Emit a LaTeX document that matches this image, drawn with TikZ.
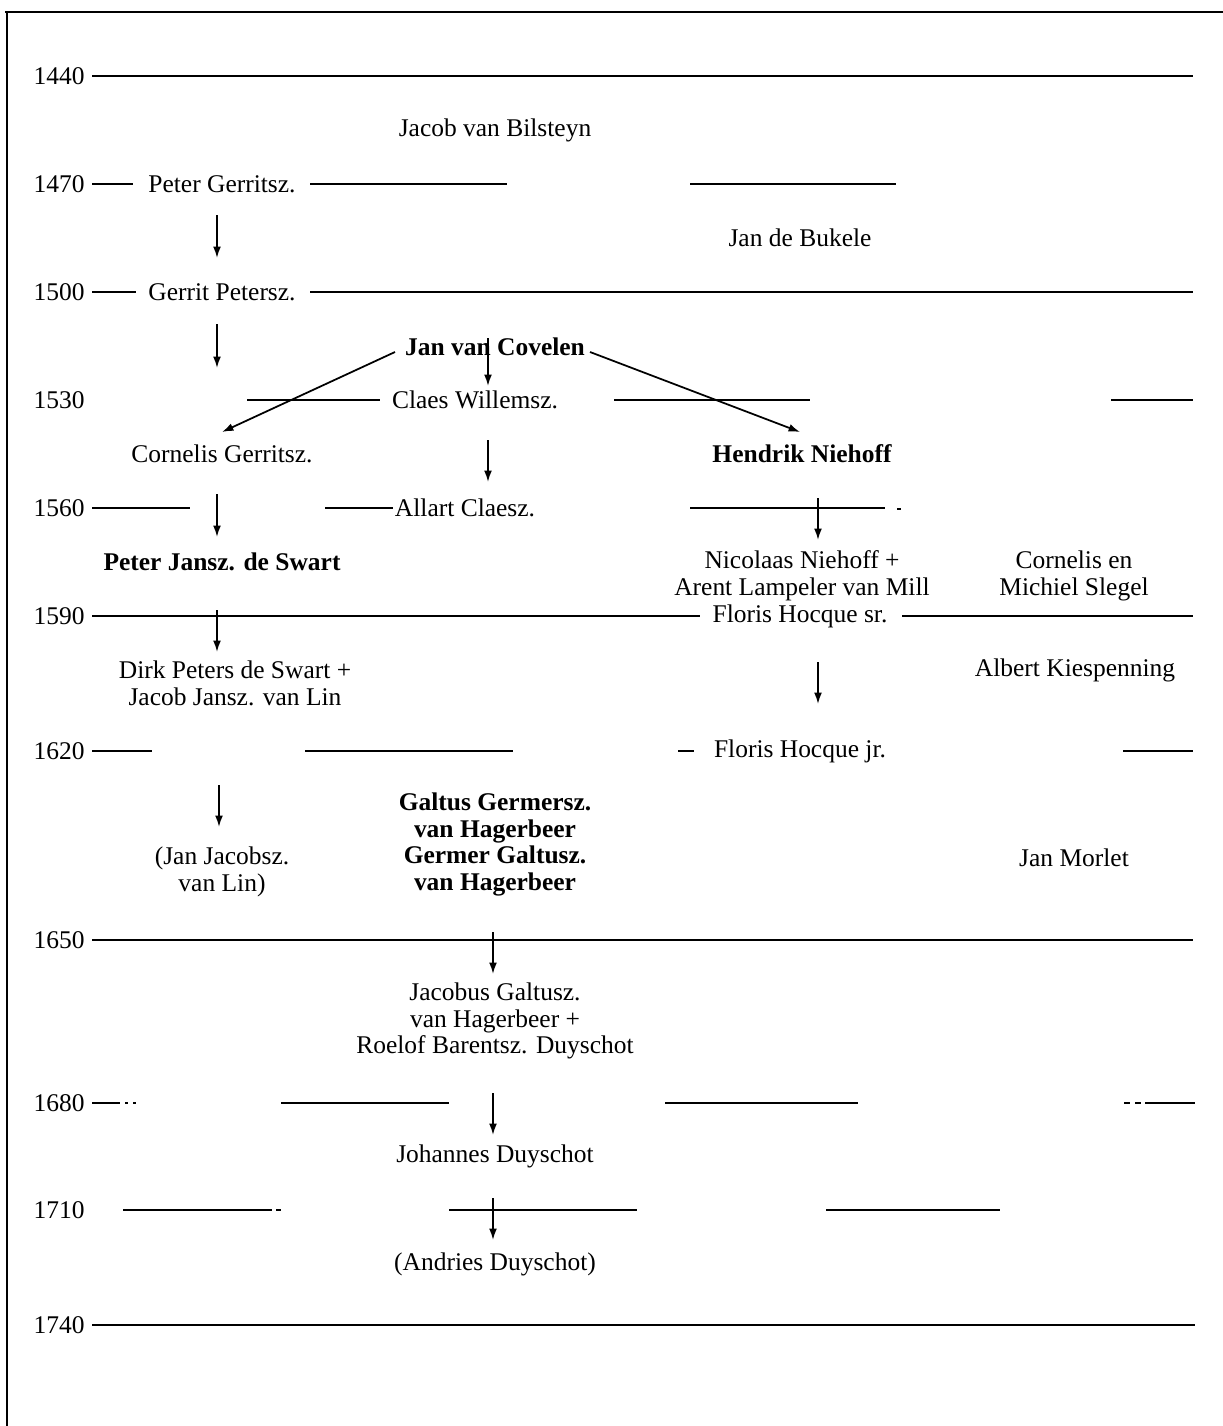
\documentclass[tikz,border=0pt]{standalone}
\usepackage{fontspec}
\setmainfont{Liberation Serif}
\usetikzlibrary{calc,arrows.meta}
\begin{document}
\begin{tikzpicture}[x=0.02cm,y=-0.02cm,
  pname/.style={font=\fontsize{14.5}{15.3}\selectfont, inner sep=0pt, align=center},
  bname/.style={pname, font=\fontsize{14.5}{15.3}\selectfont\bfseries},
  yearlab/.style={pname, anchor=east},
  rule/.style={line width=0.9pt},
  century/.style={line width=1.6pt},
  frame/.style={line width=1.3pt},
  arr/.style={line width=1pt, -{Latex[length=6.5pt,width=4.5pt]}},
]
\useasboundingbox (0,0) rectangle (1223,1426);
% frame
\draw[frame] (5,12) -- (1223,12);
\draw[frame] (7,12) -- (7,1426);

% years
\node[yearlab] (y1440) at (85,76) {1440};
\node[yearlab] (y1470) at (85,184) {1470};
\node[yearlab] (y1500) at (85,292) {1500};
\node[yearlab] (y1530) at (85,400) {1530};
\node[yearlab] (y1560) at (85,508) {1560};
\node[yearlab] (y1590) at (85,616) {1590};
\node[yearlab] (y1620) at (85,751) {1620};
\node[yearlab] (y1650) at (85,940) {1650};
\node[yearlab] (y1680) at (85,1103) {1680};
\node[yearlab] (y1710) at (85,1210) {1710};
\node[yearlab] (y1740) at (85,1325) {1740};

% rules
\draw[century] (92,76) -- (1193,76);
\draw[rule] (92,184) -- (133,184);
\draw[rule] (310,184) -- (507,184);
\draw[rule] (690,184) -- (896,184);
\draw[rule, line width=1.1pt] (92,292) -- (136,292);
\draw[century] (310,292) -- (1193,292);
\draw[rule] (247,400) -- (380,400);
\draw[rule] (614,400) -- (810,400);
\draw[rule] (1111,400) -- (1193,400);
\draw[rule] (92,508) -- (190,508);
\draw[rule] (325,508) -- (393,508);
\draw[rule] (690,508) -- (885,508);
\draw[rule] (897,509) -- (901,509);
\draw[century] (92,616) -- (700,616);
\draw[century] (902,616) -- (1193,616);
\draw[rule] (92,751) -- (152,751);
\draw[rule] (305,751) -- (513,751);
\draw[rule] (678,751) -- (694,751);
\draw[rule] (1123,751) -- (1193,751);
\draw[century] (92,940) -- (1193,940);
\draw[rule] (92,1103) -- (120,1103);
\draw[rule] (125,1103) -- (128,1103);
\draw[rule] (133,1103) -- (136,1103);
\draw[rule] (281,1103) -- (449,1103);
\draw[rule] (665,1103) -- (858,1103);
\draw[rule] (1124,1103) -- (1130,1103);
\draw[rule] (1135,1103) -- (1141,1103);
\draw[rule] (1145,1103) -- (1195,1103);
\draw[rule] (123,1210) -- (272,1210);
\draw[rule] (276,1210) -- (281,1210);
\draw[rule] (449,1210) -- (637,1210);
\draw[rule] (826,1210) -- (1000,1210);
\draw[century] (92,1325) -- (1195,1325);

% names
\node[pname] (jvb) at (495,130) {Jacob van Bilsteyn};
\node[pname] (jdb) at (800,238) {Jan de Bukele};
\node[pname] (pg) at (222,184) {Peter Gerritsz.};
\node[pname] (gp) at (222,292) {Gerrit Petersz.};
\node[bname] (jvc) at (495,347) {Jan van Covelen};
\node[pname] (cw) at (475,400) {Claes Willemsz.};
\node[pname] (cg) at (222,454) {Cornelis Gerritsz.};
\node[bname] (hn) at (802,454) {Hendrik Niehoff};
\node[pname] (ac) at (465,508) {Allart Claesz.};
\node[bname] (pjs) at (222,562) {Peter Jansz. de Swart};
\node[pname] (nn) at (802,575.5) {Nicolaas Niehoff +\\Arent Lampeler van Mill};
\node[pname] (cms) at (1074,575.5) {Cornelis en\\Michiel Slegel};
\node[pname] (fhs) at (800,616) {Floris Hocque sr.};
\node[pname] (dps) at (235,683.5) {Dirk Peters de Swart +\\Jacob Jansz. van Lin};
\node[pname] (ak) at (1075,670) {Albert Kiespenning};
\node[pname] (fhj) at (800,751) {Floris Hocque jr.};
\node[pname] (jjl) at (222,871.5) {(Jan Jacobsz.\\van Lin)};
\node[bname] (gal) at (495,844.5) {Galtus Germersz.\\van Hagerbeer\\Germer Galtusz.\\van Hagerbeer};
\node[pname] (jm) at (1074,858) {Jan Morlet};
\node[pname] (jg) at (495,1021) {Jacobus Galtusz.\\van Hagerbeer +\\Roelof Barentsz. Duyschot};
\node[pname] (jd) at (495,1156) {Johannes Duyschot};
\node[pname] (ad) at (495,1264) {(Andries Duyschot)};

% arrows
\draw[arr] ($(pg)+(-5,31)$) -- ($(gp)+(-5,-34)$);
\draw[arr] ($(gp)+(-5,32)$) -- ($(cg)+(-5,-86)$);
\draw[arr] ($(jvc)+(-100,5)$) -- ($(cg)+(0,-22)$);
\draw[arr] ($(jvc)+(-7,-9)$) -- ($(cw)+(13,-14)$);
\draw[arr] ($(jvc)+(95,5)$) -- ($(hn)+(-2,-22)$);
\draw[arr] ($(cw)+(13,40)$) -- ($(ac)+(23,-26)$);
\draw[arr] ($(cg)+(-5,40)$) -- ($(pjs)+(-5,-25)$);
\draw[arr] ($(hn)+(16,44)$) -- ($(nn)+(16,-35.5)$);
\draw[arr] ($(pjs)+(-5,48)$) -- ($(dps)+(-18,-31.5)$);
\draw[arr] ($(fhs)+(18,46)$) -- ($(fhj)+(18,-47)$);
\draw[arr] ($(dps)+(-16,101.5)$) -- ($(jjl)+(-3,-44.5)$);
\draw[arr] ($(gal)+(-2,87.5)$) -- ($(jg)+(-2,-47)$);
\draw[arr] ($(jg)+(-2,72)$) -- ($(jd)+(-2,-21)$);
\draw[arr] ($(jd)+(-2,42)$) -- ($(ad)+(-2,-24)$);
\end{tikzpicture}
\end{document}
